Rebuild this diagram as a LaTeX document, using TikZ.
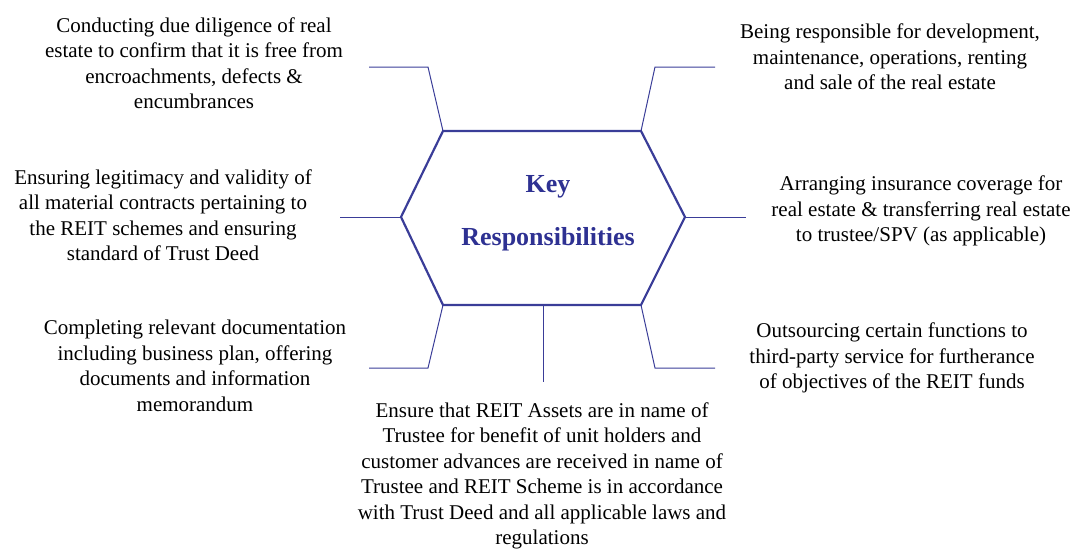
\documentclass[tikz,border=0pt]{standalone}
\usepackage{fontspec}
\setmainfont{LiberationSerif}[Extension=.ttf,UprightFont=*-Regular,BoldFont=*-Bold,ItalicFont=*-Italic,BoldItalicFont=*-BoldItalic]
\definecolor{hexblue}{HTML}{3A3D98}
\definecolor{titleblue}{HTML}{2E3192}
\begin{document}
\begin{tikzpicture}[x=1pt,y=-1pt,
  hexline/.style={draw=hexblue,line width=2.2pt,line join=miter},
  conn/.style={draw=hexblue,line width=1pt},
  itemtext/.style={align=center,font=\fontsize{21}{25.5}\selectfont,inner sep=0pt,text=black},
  titletext/.style={align=center,font=\fontsize{26}{53}\selectfont\bfseries,text=titleblue,inner sep=0pt}]
\useasboundingbox (0,0) rectangle (1089,554);
% hexagon vertices
\coordinate (tl) at (443,131);
\coordinate (tr) at (641,131);
\coordinate (r) at (685,217);
\coordinate (br) at (641,305);
\coordinate (bl) at (443,305);
\coordinate (l) at (401,217);
\coordinate (bm) at (543,305);
\draw[hexline] (tl) -- (tr) -- (r) -- (br) -- (bl) -- (l) -- cycle;
\node[titletext] (title) at (548,213) {Key\\Responsibilities};
% connector ends
\coordinate (tlk) at (428,67);  \coordinate (tle) at (369,67);
\coordinate (trk) at (655,67);  \coordinate (tre) at (715,67);
\coordinate (le) at (340,217);
\coordinate (re) at (746,217);
\coordinate (blk) at (428,368); \coordinate (ble) at (369,368);
\coordinate (brk) at (655,368); \coordinate (bre) at (715,368);
\coordinate (bme) at (543,382);
\draw[conn] (tl) -- (tlk) -- (tle);
\draw[conn] (tr) -- (trk) -- (tre);
\draw[conn] (l) -- (le);
\draw[conn] (r) -- (re);
\draw[conn] (bl) -- (blk) -- (ble);
\draw[conn] (br) -- (brk) -- (bre);
\draw[conn] (bm) -- (bme);
% texts
\node[itemtext] (t1) at (194,63) {Conducting due diligence of real\\estate to confirm that it is free from\\encroachments, defects \&\\encumbrances};
\node[itemtext] (t2) at (163,215) {Ensuring legitimacy and validity of\\all material contracts pertaining to\\the REIT schemes and ensuring\\standard of Trust Deed};
\node[itemtext] (t3) at (195,366) {Completing relevant documentation\\including business plan, offering\\documents and information\\memorandum};
\node[itemtext] (t4) at (890,57) {Being responsible for development,\\maintenance, operations, renting\\and sale of the real estate};
\node[itemtext] (t5) at (921,211) {Arranging insurance coverage for\\real estate \& transferring real estate\\to trustee/SPV (as applicable)};
\node[itemtext] (t6) at (892,358) {Outsourcing certain functions to\\third-party service for furtherance\\of objectives of the REIT funds};
\node[itemtext] (t7) at (542,476) {Ensure that REIT Assets are in name of\\Trustee for benefit of unit holders and\\customer advances are received in name of\\Trustee and REIT Scheme is in accordance\\with Trust Deed and all applicable laws and\\regulations};
\end{tikzpicture}
\end{document}
